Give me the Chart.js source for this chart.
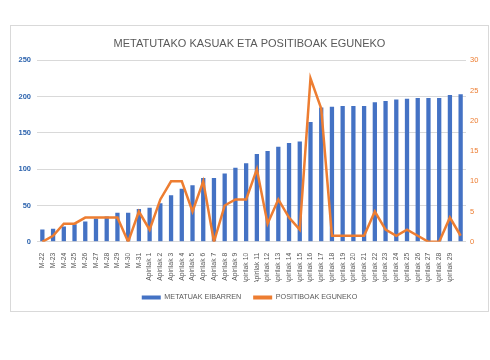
<!DOCTYPE html>
<html>
<head>
<meta charset="utf-8">
<script src="https://cdn.jsdelivr.net/npm/chart.js@4"></script>
<style>
  body { margin: 0; background: #fff; }
  #box {
    position: absolute; left: 10px; top: 25px;
    width: 479px; height: 287px;
    border: 1px solid #d9d9d9; box-sizing: border-box;
  }
</style>
</head>
<body>
<div id="box"><canvas id="c" width="477" height="285"></canvas></div>
<script>
const days = [
  'M-22', 'M-23', 'M-24', 'M-25', 'M-26', 'M-27', 'M-28', 'M-29', 'M-30', 'M-31',
  'Apirilak 1', 'Apirilak 2', 'Apirilak 3', 'Apirilak 4', 'Apirilak 5', 'Apirilak 6',
  'Apirilak 7', 'Apirilak 8', 'Apirilak 9', 'Apirilak 10', 'Apirilak 11', 'Apirilak 12',
  'Apirilak 13', 'Apirilak 14', 'Apirilak 15', 'Apirilak 16', 'Apirilak 17', 'Apirilak 18',
  'Apirilak 19', 'Apirilak 20', 'Apirilak 21', 'Apirilak 22', 'Apirilak 23', 'Apirilak 24',
  'Apirilak 25', 'Apirilak 26', 'Apirilak 27', 'Apirilak 28', 'Apirilak 29', ''
];
// metatuak (bars, left axis)
const metatuak = [
  17, 18, 21, 24, 28, 32, 35, 40, 40, 45,
  47, 53, 64, 73, 78, 88, 88, 94, 102, 108,
  121, 125, 131, 136, 138, 165, 185, 186, 187, 187,
  187, 192, 194, 196, 197, 198, 198, 198, 202, 203
];
// positiboak egun bakoitzean (line, right axis)
const positiboak = [
  0, 1, 3, 3, 4, 4, 4, 4, 0, 5,
  2, 7, 10, 10, 5, 10, 0, 6, 7, 7,
  12, 3, 7, 4, 2, 27, 22, 1, 1, 1,
  1, 5, 2, 1, 2, 1, 0, 0, 4, 1
];
const leftTicks = [0, 50, 100, 150, 200, 250];
const rightTicks = [0, 5, 10, 15, 20, 25, 30];

const gray = '#595959';
const blue = '#4472C4';
const orange = '#ED7D31';
const fam = '"Liberation Sans", Arial, sans-serif';

new Chart(document.getElementById('c'), {
  data: {
    labels: days,
    datasets: [
      {
        type: 'line',
        label: 'POSITIBOAK EGUNEKO',
        data: positiboak,
        yAxisID: 'y1',
        borderColor: orange,
        backgroundColor: orange,
        borderWidth: 2.5,
        pointRadius: 0,
        tension: 0,
        order: 0
      },
      {
        type: 'bar',
        label: 'METATUAK EIBARREN',
        data: metatuak,
        yAxisID: 'y',
        backgroundColor: blue,
        barPercentage: 0.4,
        categoryPercentage: 1,
        order: 1
      }
    ]
  },
  options: {
    responsive: false,
    animation: false,
    layout: { padding: { left: 0, right: 0, top: 0, bottom: 0 } },
    plugins: {
      title: {
        display: true,
        text: 'METATUTAKO KASUAK ETA POSITIBOAK EGUNEKO',
        color: gray,
        font: { family: fam, size: 11, weight: 'normal' },
        padding: { top: 11, bottom: 10 }
      },
      legend: {
        position: 'bottom',
        reverse: true,
        labels: {
          color: gray,
          font: { family: fam, size: 7.2 },
          boxWidth: 19,
          boxHeight: 4,
          padding: 12,
          generateLabels: (chart) => chart.data.datasets.map((ds, i) => ({
            text: ds.label,
            fillStyle: ds.type === 'line' ? orange : blue,
            strokeStyle: ds.type === 'line' ? orange : blue,
            lineWidth: 0,
            fontColor: gray,
            datasetIndex: i
          }))
        }
      },
      tooltip: { enabled: false }
    },
    scales: {
      x: {
        grid: { display: false },
        border: { display: false },
        ticks: {
          autoSkip: false,
          maxRotation: 90,
          minRotation: 90,
          color: gray,
          padding: 3,
          font: { family: fam, size: 6.8 }
        },
        afterFit: (axis) => { axis.height = 40; }
      },
      y: {
        position: 'left',
        min: 0,
        max: 250,
        afterBuildTicks: (axis) => { axis.ticks = leftTicks.map(v => ({ value: v })); },
        grid: { color: '#d9d9d9', drawTicks: false },
        border: { display: false },
        ticks: {
          color: '#2E64AE',
          padding: 6,
          font: { family: fam, size: 7.5, weight: 'bold' }
        },
        afterFit: (axis) => { axis.width = 26; }
      },
      y1: {
        position: 'right',
        min: 0,
        max: 30,
        afterBuildTicks: (axis) => { axis.ticks = rightTicks.map(v => ({ value: v })); },
        grid: { display: false, drawTicks: false },
        border: { display: false },
        ticks: {
          color: orange,
          padding: 4,
          font: { family: fam, size: 7.5 }
        },
        afterFit: (axis) => { axis.width = 22; }
      }
    }
  }
});
</script>
</body>
</html>
